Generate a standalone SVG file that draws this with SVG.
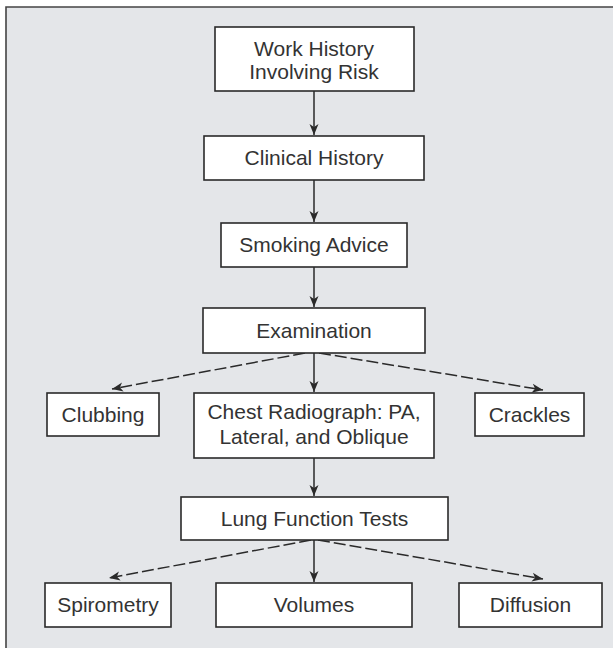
<svg xmlns="http://www.w3.org/2000/svg" width="613" height="648" viewBox="0 0 613 648">
<style>
.box{fill:#ffffff;stroke:#2a2a2a;stroke-width:1.6}
.t{font-family:"Liberation Sans",Arial,sans-serif;font-size:21px;fill:#333333;text-anchor:middle}
.c{fill:none;stroke:#2a2a2a;stroke-width:1.5}
.d{stroke-dasharray:12 4}
</style>
<defs>
<marker id="ah" markerUnits="userSpaceOnUse" markerWidth="12" markerHeight="10" viewBox="0 0 12 10" refX="11" refY="5" orient="auto">
<path d="M0,0.5 L11,5 L0,9.5 L3,5 Z" fill="#2a2a2a"/>
</marker>
</defs>
<rect x="0" y="0" width="613" height="648" fill="#ffffff"/>
<rect x="6" y="7" width="607" height="641" fill="#e4e6e9"/>
<path d="M6,648 L6,7 L613,7" fill="none" stroke="#444444" stroke-width="1.6"/>

<g id="connectors">
<line class="c" x1="314" y1="91" x2="314" y2="135" marker-end="url(#ah)"/>
<line class="c" x1="314" y1="180" x2="314" y2="222" marker-end="url(#ah)"/>
<line class="c" x1="314" y1="267" x2="314" y2="307" marker-end="url(#ah)"/>
<line class="c" x1="314" y1="353" x2="314" y2="392" marker-end="url(#ah)"/>
<line class="c d" x1="305" y1="353" x2="112" y2="389" marker-end="url(#ah)"/>
<line class="c d" x1="319" y1="353" x2="543" y2="390" marker-end="url(#ah)"/>
<line class="c" x1="314" y1="458" x2="314" y2="496" marker-end="url(#ah)"/>
<line class="c d" x1="311" y1="540" x2="109" y2="578" marker-end="url(#ah)"/>
<line class="c d" x1="318" y1="540" x2="543" y2="579" marker-end="url(#ah)"/>
<line class="c" x1="314" y1="540" x2="314" y2="582" marker-end="url(#ah)"/>
</g>

<g id="work-history">
<rect class="box" x="215" y="27" width="199" height="64"/>
<text class="t" x="314" y="56">Work History</text>
<text class="t" x="314" y="79">Involving Risk</text>
</g>
<g id="clinical-history">
<rect class="box" x="204" y="136" width="220" height="44"/>
<text class="t" x="314" y="165">Clinical History</text>
</g>
<g id="smoking-advice">
<rect class="box" x="221" y="223" width="186" height="44"/>
<text class="t" x="314" y="252">Smoking Advice</text>
</g>
<g id="examination">
<rect class="box" x="203" y="308" width="222" height="45"/>
<text class="t" x="314" y="338">Examination</text>
</g>
<g id="clubbing">
<rect class="box" x="47" y="393" width="112" height="43"/>
<text class="t" x="103" y="422">Clubbing</text>
</g>
<g id="chest-radiograph">
<rect class="box" x="194" y="393" width="240" height="65"/>
<text class="t" x="314" y="419">Chest Radiograph: PA,</text>
<text class="t" x="314" y="444">Lateral, and Oblique</text>
</g>
<g id="crackles">
<rect class="box" x="475" y="393" width="109" height="43"/>
<text class="t" x="529.5" y="422">Crackles</text>
</g>
<g id="lung-function-tests">
<rect class="box" x="181" y="497" width="267" height="43"/>
<text class="t" x="314.5" y="526">Lung Function Tests</text>
</g>
<g id="spirometry">
<rect class="box" x="45" y="583" width="126" height="44"/>
<text class="t" x="108" y="612">Spirometry</text>
</g>
<g id="volumes">
<rect class="box" x="216" y="583" width="196" height="44"/>
<text class="t" x="314" y="612">Volumes</text>
</g>
<g id="diffusion">
<rect class="box" x="459" y="583" width="143" height="44"/>
<text class="t" x="530.5" y="612">Diffusion</text>
</g>
</svg>
